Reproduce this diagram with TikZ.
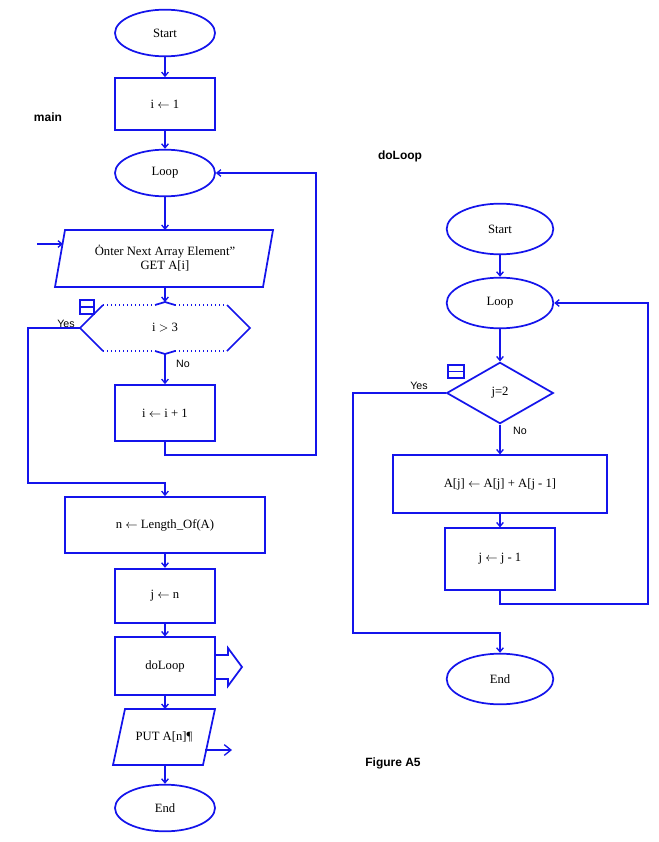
\documentclass[tikz,border=0pt]{standalone}
\usepackage{fontspec}
\setmainfont{Liberation Serif}
\newfontfamily\sans{Liberation Sans}
\usetikzlibrary{shapes.geometric,arrows.meta}
\definecolor{fc}{RGB}{20,20,235}
\begin{document}
\begin{tikzpicture}[x=0.75pt,y=-0.75pt,
  line width=1.3pt, draw=fc,
  every node/.style={font=\fontsize{9.5}{11}\selectfont},
  ell/.style={ellipse,draw=fc,line width=1.3pt,minimum width=75pt,minimum height=35pt,inner sep=0pt},
  box/.style={rectangle,draw=fc,line width=1.3pt,inner sep=0pt},
  arr/.style={-{Straight Barb[length=3pt,width=5pt]},draw=fc,line width=1pt},
  ln/.style={draw=fc,line width=1pt},
  lab/.style={font=\sans\fontsize{8}{9}\selectfont,inner sep=1pt},
  ttl/.style={font=\sans\bfseries\fontsize{9}{10}\selectfont}]
\useasboundingbox (0,0) rectangle (659,842);
% titles
\node[ttl] at (48,117) {main};
\node[ttl] at (400,156) {doLoop};
\node[ttl] at (393,763) {Figure A5};
% left column
\node[ell] (s1) at (165,33) {Start};
\node[box,minimum width=75pt,minimum height=39pt] (b1) at (165,104) {i $\leftarrow$ 1};
\node[ell] (l1) at (165,173) {Loop};
\node[align=center] (in) at (165,258) {\char"22Enter Next Array Element\char"22\\GET A[i]};
\draw (65,230) -- (273,230) -- (263,287) -- (55,287) -- cycle;
\coordinate (inT) at (165,230); \coordinate (inB) at (165,287);
\coordinate (inL) at (63,244); \coordinate (inS) at (37,244);
\node (h) at (165,328) {i $>$ 3};
\coordinate (hT) at (165,302); \coordinate (hB) at (165,354);
\coordinate (hL) at (80,328); \coordinate (hR) at (250,328);
\draw (103,305) -- (hL) -- (103,351);
\draw (227,305) -- (hR) -- (227,351);
\draw (155,305) -- (hT) -- (175,305);
\draw (155,351) -- (hB) -- (175,351);
\draw[dotted,line width=1pt] (103,305) -- (155,305) (175,305) -- (227,305) (103,351) -- (155,351) (175,351) -- (227,351);
\draw[line width=1.1pt] (80,300) rectangle (94,314) (80,307) -- (94,307);
\node[box,minimum width=75pt,minimum height=42pt] (b2) at (165,413) {i $\leftarrow$ i + 1};
\node[box,minimum width=150pt,minimum height=42pt] (b3) at (165,525) {n $\leftarrow$ Length\_Of(A)};
\node[box,minimum width=75pt,minimum height=41pt] (b4) at (165,596) {j $\leftarrow$ n};
\node[box,minimum width=75pt,minimum height=43pt] (b5) at (165,666) {doLoop};
\draw (215,655) -- (228,655) -- (228,648) -- (242,667) -- (228,686) -- (228,679) -- (215,679);
\node (out) at (164,737) {PUT A[n]\P};
\draw (125,709) -- (215,709) -- (203,765) -- (113,765) -- cycle;
\coordinate (outT) at (165,709); \coordinate (outB) at (165,765);
\coordinate (oS) at (205,750); \coordinate (oE) at (232,750);
\node[ell] (e1) at (165,808) {End};
\node[lab,anchor=south] at (66,330) {Yes};
\node[lab] at (183,364) {No};
% left connectors
\draw[arr] (s1) -- (b1);
\draw[arr] (b1) -- (l1);
\draw[arr] (l1) -- (inT);
\draw[arr] (inS) -- (inL);
\draw[arr] (inB) -- (hT);
\draw[arr] (hB) -- (b2);
\draw[arr] (b2.south) -- (165,455) -- (316,455) -- (316,173) -- (l1.east);
\draw[arr] (hL) -- (28,328) -- (28,483) -- (165,483) -- (b3.north);
\draw[arr] (b3) -- (b4);
\draw[arr] (b4) -- (b5);
\draw[arr] (b5) -- (outT);
\draw[arr] (outB) -- (e1);
\draw[-{Straight Barb[length=5pt,width=8pt]},ln] (oS) -- (oE);
% right column
\node[ell,minimum width=80pt,minimum height=38pt] (s2) at (500,229) {Start};
\node[ell,minimum width=80pt,minimum height=38pt] (l2) at (500,303) {Loop};
\node[diamond,draw=fc,line width=1.3pt,minimum width=80pt,minimum height=46pt,inner sep=0pt] (d2) at (500,393) {j=2};
\draw[line width=1.1pt] (448,365) rectangle (464,378) (448,371.5) -- (464,371.5);
\node[box,minimum width=161pt,minimum height=43pt] (b6) at (500,484) {A[j] $\leftarrow$ A[j] + A[j - 1]};
\node[box,minimum width=82pt,minimum height=46pt] (b7) at (500,559) {j $\leftarrow$ j - 1};
\node[ell,minimum width=80pt,minimum height=38pt] (e2) at (500,679) {End};
\node[lab,anchor=south] at (419,392) {Yes};
\node[lab] at (520,431) {No};
\draw[arr] (s2) -- (l2);
\draw[arr] (l2) -- (d2.north);
\draw[arr] (d2.south) -- (b6);
\draw[arr] (b6) -- (b7);
\draw[arr] (b7.south) -- (500,604) -- (648,604) -- (648,303) -- (l2.east);
\draw[arr] (d2.west) -- (353,393) -- (353,633) -- (500,633) -- (e2.north);
\end{tikzpicture}
\end{document}
